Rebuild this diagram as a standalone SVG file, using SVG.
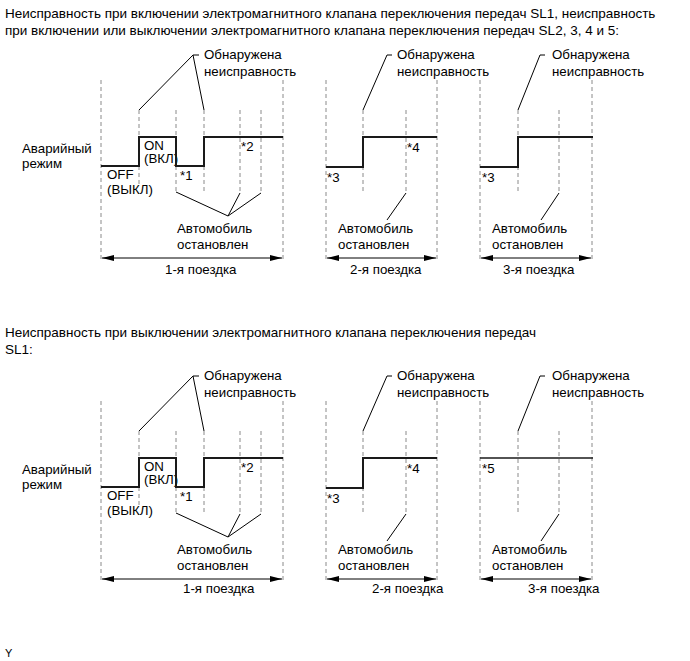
<svg xmlns="http://www.w3.org/2000/svg" width="690" height="661" viewBox="0 0 690 661">
<style>
text{font-family:"Liberation Sans",Arial,sans-serif;font-size:13.3px;fill:#000}
.title{font-size:13.5px}
.dash{stroke:#8a8a8a;stroke-width:1;stroke-dasharray:4,3;fill:none}
.sig{stroke:#1a1a1a;stroke-width:2;fill:none}
.lead{stroke:#000;stroke-width:1;fill:none}
.dim{stroke:#000;stroke-width:1;fill:none;marker-start:url(#ah);marker-end:url(#ah)}
</style>
<defs>
<marker id="ah" viewBox="0 0 12 6" refX="12" refY="3" markerWidth="12" markerHeight="6" markerUnits="userSpaceOnUse" orient="auto-start-reverse">
<path d="M0,0 L12,3 L0,6 Z" fill="#000"/>
</marker>
<g id="trip1">
<g class="connectors">
<line class="dash" x1="101" y1="80" x2="101" y2="262"/>
<line class="dash" x1="139" y1="110" x2="139" y2="187"/>
<line class="dash" x1="176" y1="110" x2="176" y2="192"/>
<line class="dash" x1="204" y1="110" x2="204" y2="192"/>
<line class="dash" x1="240" y1="110" x2="240" y2="193"/>
<line class="dash" x1="261" y1="110" x2="261" y2="193"/>
<line class="dash" x1="283" y1="80" x2="283" y2="262"/>
<polyline class="lead" points="139,110 193,55 204,110"/>
<line class="lead" x1="193" y1="55" x2="199" y2="55"/>
<polyline class="lead" points="176,192 228,216 240,193"/>
<line class="lead" x1="228" y1="216" x2="261" y2="193"/>
<line class="dim" x1="102" y1="258" x2="282" y2="258"/>
</g>
<text x="204" y="59">Обнаружена</text>
<text x="204" y="76">неисправность</text>
<text x="22" y="153">Аварийный</text>
<text x="22" y="168">режим</text>
<text x="107" y="179">OFF</text>
<text x="107" y="194">(ВЫКЛ)</text>
<text x="144" y="150">ON</text>
<text x="144" y="163">(ВКЛ)</text>
<text x="180" y="180">*1</text>
<text x="241" y="151">*2</text>
<text x="177" y="233">Автомобиль</text>
<text x="177" y="249">остановлен</text>
</g>
<g id="trip2">
<g class="connectors">
<line class="dash" x1="326" y1="80" x2="326" y2="262"/>
<line class="dash" x1="363" y1="110" x2="363" y2="193"/>
<line class="dash" x1="406" y1="110" x2="406" y2="193"/>
<line class="dash" x1="437" y1="80" x2="437" y2="262"/>
<polyline class="lead" points="363,110 387,55 392,55"/>
<line class="lead" x1="406" y1="193" x2="387" y2="220"/>
<line class="dim" x1="327" y1="258" x2="436" y2="258"/>
</g>
<text x="397" y="59">Обнаружена</text>
<text x="397" y="76">неисправность</text>
<text x="407" y="152">*4</text>
<text x="338" y="233">Автомобиль</text>
<text x="338" y="249">остановлен</text>
</g>
<g id="trip3">
<g class="connectors">
<line class="dash" x1="480" y1="80" x2="480" y2="262"/>
<line class="dash" x1="518" y1="110" x2="518" y2="193"/>
<line class="dash" x1="559" y1="110" x2="559" y2="193"/>
<line class="dash" x1="592" y1="80" x2="592" y2="262"/>
<polyline class="lead" points="518,110 540,55 545,55"/>
<line class="lead" x1="559" y1="193" x2="541" y2="220"/>
<line class="dim" x1="481" y1="258" x2="591" y2="258"/>
</g>
<text x="552" y="59">Обнаружена</text>
<text x="552" y="76">неисправность</text>
<text x="492" y="233">Автомобиль</text>
<text x="492" y="249">остановлен</text>
</g>
</defs>

<g id="title-top">
<text class="title" x="5" y="18">Неисправность при включении электромагнитного клапана переключения передач SL1, неисправность</text>
<text class="title" x="5" y="35">при включении или выключении электромагнитного клапана переключения передач SL2, 3, 4 и 5:</text>
</g>

<g id="top-diagram">
<g id="top-trip1">
<use href="#trip1"/>
<polyline class="sig" points="101,166 139,166 139,137 176,137 176,166 204,166 204,137 283,137"/>
<text x="165" y="274">1-я поездка</text>
</g>
<g id="top-trip2">
<use href="#trip2"/>
<polyline class="sig" points="326,167 363,167 363,137 437,137"/>
<text x="327" y="182">*3</text>
<text x="350" y="274">2-я поездка</text>
</g>
<g id="top-trip3">
<use href="#trip3"/>
<polyline class="sig" points="480,167 518,167 518,137 593,137"/>
<text x="482" y="182">*3</text>
<text x="503" y="274">3-я поездка</text>
</g>
</g>

<g id="title-bottom">
<text class="title" x="5" y="337">Неисправность при выключении электромагнитного клапана переключения передач</text>
<text class="title" x="5" y="354">SL1:</text>
</g>

<g id="bottom-diagram">
<g id="bottom-trip1">
<use href="#trip1" y="321"/>
<polyline class="sig" points="101,487 139,487 139,458 176,458 176,487 204,487 204,458 283,458"/>
<text x="183" y="593">1-я поездка</text>
</g>
<g id="bottom-trip2">
<use href="#trip2" y="321"/>
<polyline class="sig" points="326,488 363,488 363,458 437,458"/>
<text x="327" y="503">*3</text>
<text x="372" y="593">2-я поездка</text>
</g>
<g id="bottom-trip3">
<use href="#trip3" y="321"/>
<polyline class="sig" points="480,458 593,458" style="stroke-width:1.6"/>
<text x="482" y="473">*5</text>
<text x="528" y="593">3-я поездка</text>
</g>
</g>

<g id="footer">
<text x="5" y="657" style="font-size:11px">Y</text>
</g>
</svg>
